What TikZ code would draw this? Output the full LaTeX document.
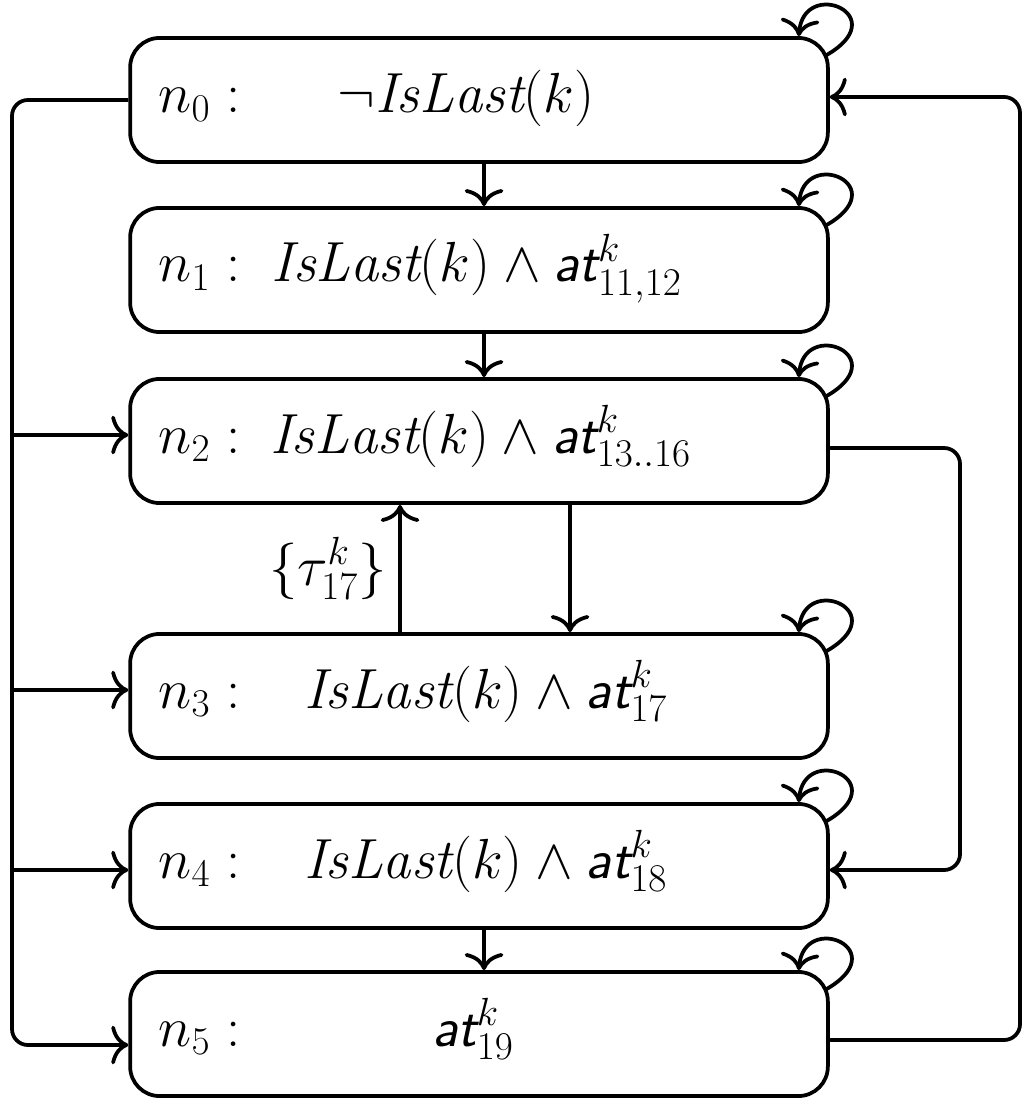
\documentclass[tikz,border=0pt]{standalone}
\usepackage{amsmath}
\usepackage{fontspec}
\DeclareMathSizes{24.88}{24.88}{17.28}{14.4}
\usetikzlibrary{arrows.meta,calc}
\newcommand{\atf}{\mbox{\sffamily\slshape at}}
\begin{document}
\begin{tikzpicture}[x=0.44pt,y=-0.44pt,
  box/.style={draw, line width=1.65pt, rounded corners=13pt, minimum width=307pt, minimum height=54.6pt, inner sep=0pt},
  edge/.style={line width=1.65pt, -{To[length=7.5pt,width=17pt]}},
  busline/.style={line width=1.65pt, rounded corners=7pt},
  lbl/.style={anchor=base west, inner sep=0pt},
  frm/.style={anchor=base, inner sep=0pt},
  font=\fontsize{24.88}{30}\selectfont]
\useasboundingbox (0,0) rectangle (1030,1100);
% boxes
\node[box] (n0) at (479,100) {};
\node[box] (n1) at (479,270) {};
\node[box] (n2) at (479,441) {};
\node[box] (n3) at (479,696) {};
\node[box] (n4) at (479,866) {};
\node[box] (n5) at (479,1034) {};
% labels
\node[lbl] (l0) at (158,113) {$n_0 :$};
\node[lbl] (l1) at (158,282) {$n_1 :$};
\node[lbl] (l2) at (158,453) {$n_2 :$};
\node[lbl] (l3) at (158,708) {$n_3 :$};
\node[lbl] (l4) at (158,878) {$n_4 :$};
\node[lbl] (l5) at (158,1046) {$n_5 :$};
\node[frm] (f0) at (466,113) {$\neg \mathit{IsLast}(k)$};
\node[frm] (f1) at (477,282) {$\mathit{IsLast}(k)\wedge \atf^k_{11,12}$};
\node[frm] (f2) at (481,453) {$\mathit{IsLast}(k)\wedge \atf^k_{13..16}$};
\node[frm] (f3) at (486,708) {$\mathit{IsLast}(k)\wedge \atf^k_{17}$};
\node[frm] (f4) at (486,878) {$\mathit{IsLast}(k)\wedge \atf^k_{18}$};
\node[frm] (f5) at (473,1046) {$\atf^k_{19}$};
% self loops
\foreach \n in {n0,n1,n2,n3,n4,n5}{
  \draw[edge] ($(\n.north east)+(-5,20)$) .. controls +(72,-40) and +(5,-60) .. ($(\n.north east)+(-31,0)$);
}
% vertical edges
\draw[edge] ($(n0.south)+(5,0)$) -- ($(n1.north)+(5,0)$);
\draw[edge] ($(n1.south)+(5,0)$) -- ($(n2.north)+(5,0)$);
\draw[edge] ($(n4.south)+(5,0)$) -- ($(n5.north)+(5,0)$);
\draw[edge] ($(n2.south)+(91,0)$) -- ($(n3.north)+(91,0)$);
\draw[edge] ($(n3.north)+(-79,0)$) -- node[midway, left, inner sep=5pt] (tl) {$\{\tau^k_{17}\}$} ($(n2.south)+(-79,0)$);
% left bus
\coordinate (b2) at (12,435);
\coordinate (b3) at (12,690);
\coordinate (b4) at (12,870);
\draw[edge, busline] (n0.west) -- (12,100) -- (12,1045) -- ($(n5.west)+(0,11)$);
\draw[edge] (b2) -- ($(n2.west)+(0,-6)$);
\draw[edge] (b3) -- ($(n3.west)+(0,-6)$);
\draw[edge] (b4) -- ($(n4.west)+(0,4)$);
% right connectors
\draw[edge, busline] ($(n5.east)+(0,6)$) -- (1020,1040) -- (1020,97) -- ($(n0.east)+(0,-3)$);
\draw[edge, busline] ($(n2.east)+(0,7)$) -- (960,448) -- (960,870) -- ($(n4.east)+(0,4)$);
\end{tikzpicture}
\end{document}
